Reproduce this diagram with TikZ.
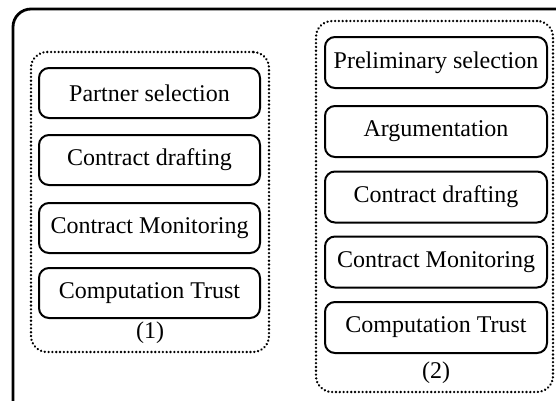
\documentclass[tikz,border=0pt]{standalone}
\usepackage{fontspec}
\setmainfont{Liberation Serif}
\begin{document}
\begin{tikzpicture}[x=1pt,y=-1pt,
  stepbox/.style={draw, line width=2pt, rounded corners=10pt, minimum height=50pt, inner sep=0pt, font=\fontsize{24}{28}\selectfont},
  groupbox/.style={draw, line width=2.6pt, dash pattern=on 0.01pt off 3.8pt, line cap=round, rounded corners=16pt, inner sep=0pt},
  lbl/.style={font=\fontsize{24}{28}\selectfont, inner sep=0pt}]
\useasboundingbox (0,0) rectangle (556,400);
% outer frame (extends beyond the picture)
\draw[line width=2.8pt, rounded corners=18pt] (13,9) rectangle (590,430);
% groups
\node[groupbox, minimum width=238pt, minimum height=300pt] (g1) at (150,202) {};
\node[groupbox, minimum width=237pt, minimum height=371pt] (g2) at (434.5,206.5) {};
% left steps
\node[stepbox, minimum width=221pt] (a1) at (149.5,93) {Partner selection};
\node[stepbox, minimum width=221pt] (a2) at (149.5,160) {Contract drafting};
\node[stepbox, minimum width=221pt] (a3) at (149.5,228) {Contract Monitoring};
\node[stepbox, minimum width=221pt] (a4) at (149.5,293) {Computation Trust};
\node[lbl] (l1) at (150,333) {(1)};
% right steps
\node[stepbox, minimum width=222pt, minimum height=51pt] (b1) at (436,62.5) {Preliminary selection};
\node[stepbox, minimum width=222pt, minimum height=51pt] (b2) at (436,131.5) {Argumentation};
\node[stepbox, minimum width=222pt, minimum height=51pt] (b3) at (436,197) {Contract drafting};
\node[stepbox, minimum width=222pt, minimum height=51pt] (b4) at (436,262) {Contract Monitoring};
\node[stepbox, minimum width=222pt, minimum height=51pt] (b5) at (436,327.5) {Computation Trust};
\node[lbl] (l2) at (436,373) {(2)};
\end{tikzpicture}
\end{document}
